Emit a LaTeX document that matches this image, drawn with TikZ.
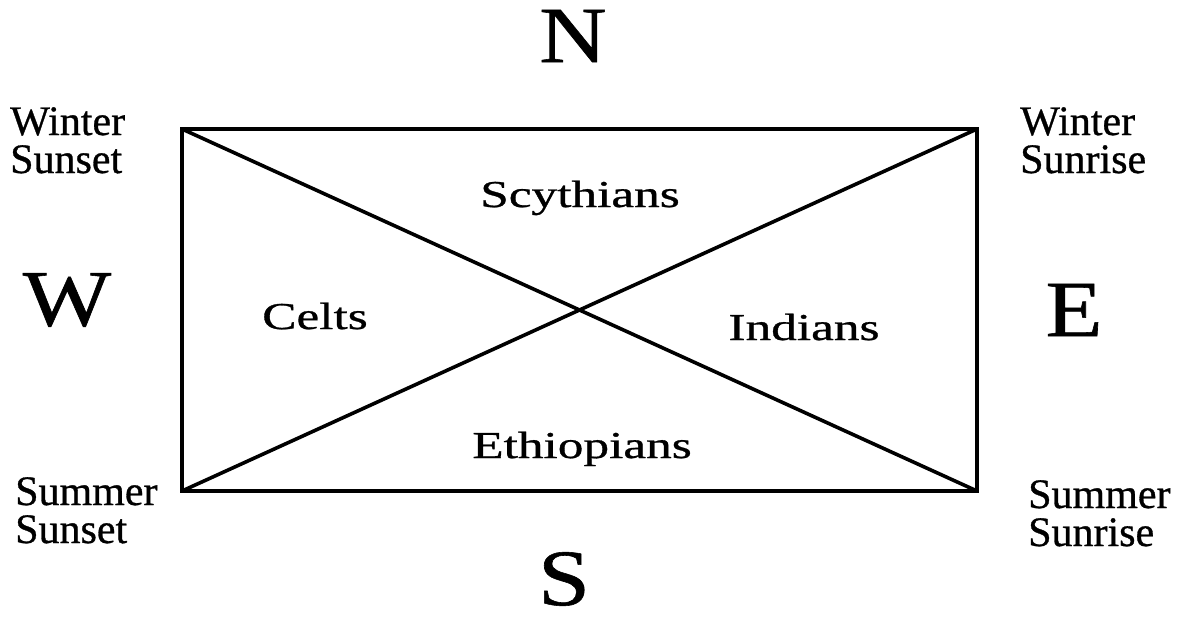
\documentclass[tikz,border=0pt]{standalone}
\usepackage{fontspec}
\setmainfont[BoldFont={Liberation Serif},BoldFeatures={FakeBold=0.7}]{Liberation Serif}
\usetikzlibrary{positioning}
\definecolor{ink}{HTML}{000000}
\tikzset{
  pole/.style={font=\fontsize{80}{80}\selectfont\bfseries,text=ink,xscale=1.17,
               inner sep=0pt},
  horizon/.style={font=\fontsize{42}{38}\selectfont\bfseries,text=ink,align=left,
                  inner sep=0pt,anchor=north west},
  people/.style={font=\fontsize{38}{38}\selectfont\bfseries,text=ink,xscale=1.35,
                 inner sep=0pt,anchor=base},
  edge/.style={draw=ink,line width=3.6pt}
}
\begin{document}
\begin{tikzpicture}[x=1pt,y=1pt]
  \useasboundingbox (0,0) rectangle (1189,-616);
  % corners of the world
  \coordinate (wset) at (182,-129);
  \coordinate (wrise) at (977,-129);
  \coordinate (srise) at (977,-491);
  \coordinate (sset) at (182,-491);
  \draw[edge] (wset) -- (wrise) -- (srise) -- (sset) -- cycle;
  \draw[edge] (wset) -- (srise);
  \draw[edge] (sset) -- (wrise);
  % compass points
  \node[pole] (north) at (573,-36) {N};
  \node[pole] (south) at (564,-579) {S};
  \node[pole] (west) at (67,-300) {W};
  \node[pole] (east) at (1074,-310) {E};
  % solstice points
  \node[horizon] (wsetl) at (10,-107) {Winter\\Sunset};
  \node[horizon] (wrisel) at (1020,-107) {Winter\\Sunrise};
  \node[horizon] (ssetl) at (15,-477) {Summer\\Sunset};
  \node[horizon] (srisel) at (1028,-480) {Summer\\Sunrise};
  % peoples
  \node[people] (scyth) at (580,-207) {Scythians};
  \node[people] (celts) at (315,-329) {Celts};
  \node[people] (indians) at (804,-340) {Indians};
  \node[people] (ethiop) at (582,-458) {Ethiopians};
\end{tikzpicture}
\end{document}
